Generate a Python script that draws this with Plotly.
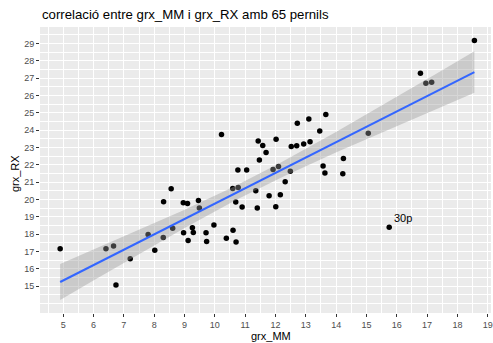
import numpy as np
import plotly.graph_objects as go

# ---- data ----
grx_MM = [4.90, 6.41, 6.66, 6.74, 7.21, 7.80, 8.02, 8.30, 8.31, 8.56,
          8.61, 8.96, 9.10, 8.97, 9.12, 9.26, 9.29, 9.46, 9.49, 9.71,
          9.73, 9.97, 10.22, 10.38, 10.60, 10.70, 10.59, 10.77, 10.76, 11.05,
          10.69, 10.90, 11.35, 11.40, 11.43, 11.58, 11.69, 11.47, 11.79, 11.92,
          12.10, 12.02, 12.16, 12.01, 12.32, 12.49, 12.52, 12.72, 12.70, 12.93,
          13.10, 13.14, 13.46, 13.66, 13.57, 13.63, 14.24, 14.22, 15.06, 15.75,
          18.56, 16.78, 16.96, 17.15]
grx_RX = [17.16, 17.16, 17.33, 15.07, 16.59, 17.98, 17.08, 17.81, 19.88, 20.63,
          18.34, 19.82, 19.78, 18.08, 17.64, 18.37, 18.10, 19.95, 19.52, 18.08,
          17.58, 18.54, 23.75, 17.77, 18.23, 17.56, 20.64, 20.70, 21.70, 21.70,
          19.86, 19.57, 20.51, 19.52, 23.37, 23.12, 22.71, 22.28, 20.22, 21.74,
          21.91, 23.48, 20.28, 19.59, 21.03, 21.64, 23.06, 24.40, 23.10, 23.21,
          24.65, 23.33, 23.96, 24.90, 21.93, 21.53, 22.37, 21.49, 23.83, 18.40,
          29.17, 27.28, 26.70, 26.76]
label_text = "30p"
label_index = 59
x_ticks = list(range(5, 20))
y_ticks = list(range(15, 30))
title_text = "correlació entre grx_MM i grx_RX amb 65 pernils"

# ---- linear fit with 95% confidence band (as geom_smooth(method='lm')) ----
x = np.array(grx_MM)
y = np.array(grx_RX)
n = len(x)
b1, b0 = np.polyfit(x, y, 1)
resid = y - (b0 + b1 * x)
s = np.sqrt(np.sum(resid ** 2) / (n - 2))
xm = x.mean()
sxx = np.sum((x - xm) ** 2)
tq = 1.999
xs = np.linspace(x.min(), x.max(), 80)
ys = b0 + b1 * xs
se = s * np.sqrt(1.0 / n + (xs - xm) ** 2 / sxx)
lo = ys - tq * se
hi = ys + tq * se

W, H = 493, 343
ML, MR, MT, MB = 40, 0, 27, 30
PW, PH = W - ML - MR, H - MT - MB

def px2paper(px, py):
    return (px - ML) / PW, (H - MB - py) / PH

FONT = "Liberation Sans, Arial, Helvetica, sans-serif"

fig = go.Figure()
fig.add_trace(go.Scatter(x=grx_MM, y=grx_RX, mode="markers",
                         marker=dict(color="black", size=5.5), hoverinfo="skip"))
fig.add_trace(go.Scatter(x=np.concatenate([xs, xs[::-1]]),
                         y=np.concatenate([hi, lo[::-1]]),
                         mode="lines", fill="toself", line=dict(width=0),
                         fillcolor="rgba(153,153,153,0.4)", hoverinfo="skip"))
fig.add_trace(go.Scatter(x=xs, y=ys, mode="lines",
                         line=dict(color="#3366FF", width=2), hoverinfo="skip"))

axis_common = dict(showgrid=True, gridcolor="white", gridwidth=1.1,
                   zeroline=False, showline=False, ticks="outside", ticklen=3,
                   tickwidth=1, tickcolor="#333333", ticklabeloverflow="allow",
                   tickfont=dict(family=FONT, size=9, color="#4D4D4D"),
                   minor=dict(dtick=0.5, tick0=0, showgrid=True,
                              gridcolor="white", gridwidth=0.6))
fig.update_xaxes(range=[4.235, 19.107], tickvals=x_ticks, **axis_common)
fig.update_yaxes(range=[13.46, 29.95], tickvals=y_ticks, **axis_common)

annotations = []
tx, ty = px2paper(272, 336)
annotations.append(dict(text="grx_MM", x=tx, y=ty, xref="paper", yref="paper",
                        showarrow=False, xanchor="center", yanchor="middle",
                        font=dict(family=FONT, size=11, color="black")))
tx, ty = px2paper(15, 174)
annotations.append(dict(text="grx_RX", x=tx, y=ty, xref="paper", yref="paper",
                        showarrow=False, xanchor="center", yanchor="middle",
                        textangle=-90,
                        font=dict(family=FONT, size=11, color="black")))
tx, ty = px2paper(40, 14.5)
annotations.append(dict(text=title_text, x=tx, y=ty, xref="paper", yref="paper",
                        showarrow=False, xanchor="left", yanchor="middle",
                        font=dict(family=FONT, size=13.2, color="black")))
annotations.append(dict(text=label_text, x=grx_MM[label_index], y=grx_RX[label_index],
                        xref="x", yref="y", showarrow=False,
                        xanchor="left", yanchor="middle", xshift=3, yshift=9,
                        font=dict(family=FONT, size=11, color="black")))

fig.update_layout(width=W, height=H, margin=dict(l=ML, r=MR, t=MT, b=MB),
                  paper_bgcolor="white", plot_bgcolor="#EBEBEB",
                  showlegend=False, annotations=annotations)

fig.write_html("out.html")
